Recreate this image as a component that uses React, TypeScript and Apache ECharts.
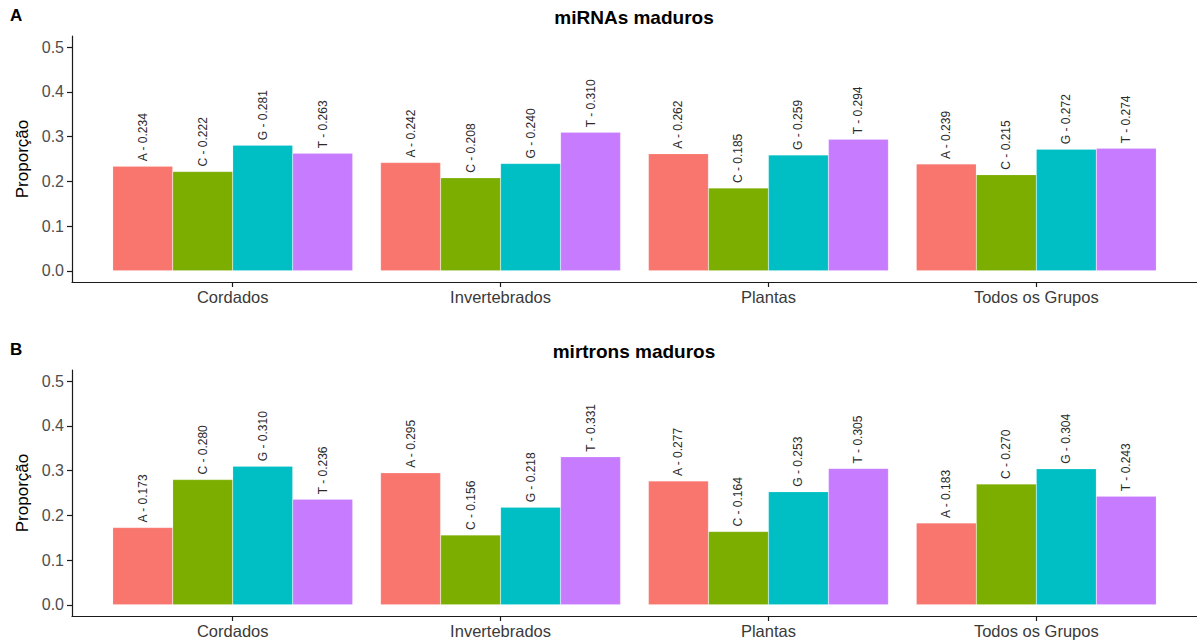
import React, { useEffect, useRef } from "react";
import * as echarts from "echarts";

// Grupos taxonômicos (eixo x)
const groups = ["Cordados", "Invertebrados", "Plantas", "Todos os Grupos"];
// Nucleotídeos e cores de cada barra
const bases = ["A", "C", "G", "T"];
const baseColors = ["#F8766D", "#7CAE00", "#00BFC4", "#C77CFF"];
// Marcas do eixo y
const yTicks = [0, 0.1, 0.2, 0.3, 0.4, 0.5];

// Painel A: miRNAs maduros — proporção de cada base por grupo
const mirnaA = [0.234, 0.242, 0.262, 0.239];
const mirnaC = [0.222, 0.208, 0.185, 0.215];
const mirnaG = [0.281, 0.240, 0.259, 0.272];
const mirnaT = [0.263, 0.310, 0.294, 0.274];

// Painel B: mirtrons maduros
const mirtronA = [0.173, 0.295, 0.277, 0.183];
const mirtronC = [0.280, 0.156, 0.164, 0.270];
const mirtronG = [0.310, 0.218, 0.253, 0.304];
const mirtronT = [0.236, 0.331, 0.305, 0.243];

const panels = [
  { letter: "A", title: "miRNAs maduros", values: [mirnaA, mirnaC, mirnaG, mirnaT] },
  { letter: "B", title: "mirtrons maduros", values: [mirtronA, mirtronC, mirtronG, mirtronT] },
];

const FONT = "'Liberation Sans', Arial, Helvetica, sans-serif";
const AXIS_COLOR = "#1a1a1a";
const TICK_TEXT = "#4d4d4d";

export default function App() {
  const ref = useRef<HTMLDivElement>(null);

  useEffect(() => {
    if (!ref.current) return;
    const chart = echarts.init(ref.current, undefined, { renderer: "svg" });

    const gridTops = [36, 370];
    const gridHeight = 246;

    const grids = gridTops.map((top) => ({ left: 72, right: 0, top, height: gridHeight }));

    const xAxes = panels.map((_, i) => ({
      type: "value",
      gridIndex: i,
      min: -0.6,
      max: groups.length - 1 + 0.6,
      splitLine: { show: false },
      axisLine: { show: true, onZero: false, lineStyle: { color: AXIS_COLOR, width: 1.2 } },
      axisTick: {
        show: true,
        length: 5,
        customValues: groups.map((_, k) => k),
        lineStyle: { color: AXIS_COLOR, width: 1.2 },
      },
      axisLabel: {
        customValues: groups.map((_, k) => k),
        formatter: (v: number) => groups[Math.round(v)] ?? "",
        color: "#3a3a3a",
        fontSize: 16.5,
        fontFamily: FONT,
        margin: 6,
      },
    }));

    const yAxes = panels.map((_, i) => ({
      type: "value",
      gridIndex: i,
      min: -0.025,
      max: 0.525,
      name: "Proporção",
      nameLocation: "middle",
      nameGap: 37,
      nameTextStyle: { fontSize: 17, color: "#000", fontFamily: FONT },
      splitLine: { show: false },
      axisLine: { show: true, onZero: false, lineStyle: { color: AXIS_COLOR, width: 1.2 } },
      axisTick: { show: true, length: 5, customValues: yTicks, lineStyle: { color: AXIS_COLOR, width: 1.2 } },
      axisLabel: {
        customValues: yTicks,
        formatter: (v: number) => v.toFixed(1),
        color: TICK_TEXT,
        fontSize: 16,
        fontFamily: FONT,
        margin: 8,
      },
    }));

    const series: any[] = [];
    panels.forEach((panel, pi) => {
      bases.forEach((base, bi) => {
        series.push({
          type: "bar",
          name: `${panel.letter}-${base}`,
          xAxisIndex: pi,
          yAxisIndex: pi,
          barGap: "0%",
          barCategoryGap: "10.4%",
          itemStyle: { color: baseColors[bi], borderColor: "rgba(255,255,255,0.35)", borderWidth: 0.5 },
          label: {
            show: true,
            position: "top",
            rotate: 90,
            align: "left",
            verticalAlign: "middle",
            distance: 5,
            fontSize: 12,
            color: "#2b2b2b",
            fontFamily: FONT,
            formatter: (p: any) => `${base} - ${Number(p.value[1]).toFixed(3)}`,
          },
          data: panel.values[bi].map((v, k) => [k, v]),
        });
      });
    });

    const titles: any[] = [];
    panels.forEach((panel, pi) => {
      const offset = gridTops[pi] - gridTops[0];
      titles.push({
        text: panel.letter,
        left: 10,
        top: 7 + offset,
        padding: 0,
        textStyle: { fontSize: 17, fontWeight: "bold", color: "#000", fontFamily: FONT },
      });
      titles.push({
        text: panel.title,
        left: 634,
        top: 8 + offset,
        padding: 0,
        textAlign: "center",
        textStyle: { fontSize: 19, fontWeight: "bold", color: "#000", fontFamily: FONT },
      });
    });

    chart.setOption({
      animation: false,
      backgroundColor: "#ffffff",
      textStyle: { fontFamily: FONT },
      title: titles,
      grid: grids,
      xAxis: xAxes,
      yAxis: yAxes,
      series,
    });

    return () => chart.dispose();
  }, []);

  return (
    <div
      ref={ref}
      style={{ position: "fixed", left: 0, top: 0, width: 1197, height: 643, background: "#fff" }}
    />
  );
}
